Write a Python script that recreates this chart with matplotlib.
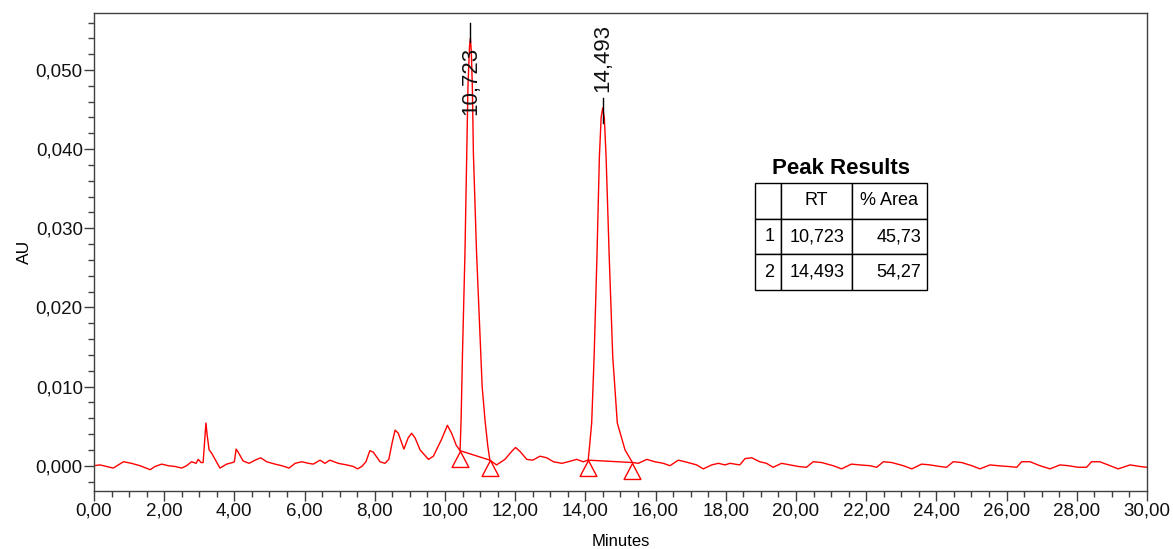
#!/usr/bin/env python3
"""Plot HPLC chromatogram with peak results table."""

import matplotlib

matplotlib.use("Agg")
import matplotlib.pyplot as plt
from matplotlib.path import Path
from matplotlib.ticker import FuncFormatter, MultipleLocator

# Chromatogram trace (minutes, AU)
time_min = [
    0.00, 0.17, 0.46, 0.55, 0.84, 1.07, 1.31, 1.60, 1.74, 1.93, 2.12, 2.31,
    2.50, 2.64, 2.78, 2.91, 2.97, 3.05, 3.11, 3.19, 3.23, 3.28, 3.35, 3.59,
    3.78, 3.95, 4.00, 4.05, 4.11, 4.25, 4.42, 4.59, 4.75, 4.92, 5.16, 5.35,
    5.56, 5.73, 5.92, 6.11, 6.25, 6.44, 6.58, 6.72, 6.96, 7.20, 7.39, 7.51,
    7.63, 7.75, 7.86, 7.96, 8.15, 8.29, 8.40, 8.50, 8.58, 8.67, 8.83, 8.95,
    9.05, 9.15, 9.29, 9.53, 9.67, 9.90, 10.07, 10.19, 10.32, 10.43, 10.46,
    10.48, 10.50, 10.57, 10.62, 10.655, 10.70, 10.723, 10.75, 10.78, 10.81,
    10.90, 11.02, 11.06, 11.14, 11.22, 11.28, 11.47, 11.71, 11.90, 12.01,
    12.14, 12.33, 12.50, 12.71, 12.90, 13.09, 13.33, 13.51, 13.75, 13.94,
    14.08, 14.11, 14.18, 14.25, 14.33, 14.40, 14.45, 14.493, 14.54, 14.59,
    14.68, 14.78, 14.91, 15.13, 15.34, 15.51, 15.75, 15.98, 16.22, 16.41,
    16.65, 16.84, 17.17, 17.36, 17.60, 17.79, 17.98, 18.12, 18.40, 18.55,
    18.74, 18.97, 19.16, 19.35, 19.59, 19.83, 20.07, 20.30, 20.49, 20.73,
    21.06, 21.30, 21.58, 21.82, 22.11, 22.30, 22.49, 22.73, 23.06, 23.30,
    23.58, 23.82, 24.10, 24.29, 24.48, 24.72, 25.01, 25.24, 25.53, 25.76,
    26.05, 26.29, 26.43, 26.67, 26.95, 27.24, 27.52, 27.76, 28.04, 28.28,
    28.42, 28.66, 28.95, 29.18, 29.52, 29.80, 30.00,
]
signal_au = [
    0.0000, 0.0001, -0.0002, -0.0003, 0.0005, 0.0003, 0.0000, -0.0005,
    -0.0001, 0.0002, 0.0000, -0.0001, -0.0003, 0.0000, 0.0005, 0.0003,
    0.0008, 0.0004, 0.0004, 0.0054, 0.0037, 0.0020, 0.0016, -0.0003,
    0.0002, 0.0004, 0.0005, 0.0021, 0.0017, 0.0006, 0.0003, 0.0007,
    0.0010, 0.0005, 0.0002, 0.0000, -0.0003, 0.0003, 0.0005, 0.0003,
    0.0002, 0.0007, 0.0003, 0.0007, 0.0003, 0.0001, -0.0001, -0.0004,
    -0.0001, 0.0005, 0.0019, 0.0017, 0.0005, 0.0003, 0.0008, 0.0030,
    0.0045, 0.0041, 0.0021, 0.0035, 0.0041, 0.0035, 0.0020, 0.0008,
    0.0012, 0.0033, 0.0051, 0.0041, 0.0026, 0.0019, 0.0058, 0.0100,
    0.0143, 0.0269, 0.0395, 0.0479, 0.0530, 0.0540, 0.0525, 0.0479,
    0.0395, 0.0269, 0.0143, 0.0100, 0.0058, 0.0025, 0.0007, 0.0001,
    0.0008, 0.0018, 0.0023, 0.0018, 0.0008, 0.0007, 0.0012, 0.0010,
    0.0005, 0.0003, 0.0005, 0.0008, 0.0005, 0.0007, 0.0020, 0.0054,
    0.0138, 0.0264, 0.0391, 0.0440, 0.0452, 0.0440, 0.0391, 0.0264,
    0.0138, 0.0054, 0.0020, 0.0004, 0.0003, 0.0008, 0.0005, 0.0003,
    0.0000, 0.0007, 0.0005, 0.0001, -0.0004, 0.0001, 0.0003, 0.0001,
    0.0003, 0.0001, 0.0009, 0.0010, 0.0005, 0.0003, -0.0002, 0.0003,
    0.0001, -0.0001, -0.0002, 0.0005, 0.0004, 0.0000, -0.0004, 0.0002,
    0.0001, 0.0000, -0.0002, 0.0005, 0.0004, 0.0000, -0.0004, 0.0002,
    0.0001, -0.0001, -0.0002, 0.0005, 0.0004, 0.0000, -0.0004, 0.0001,
    0.0000, -0.0001, -0.0002, 0.0005, 0.0005, 0.0000, -0.0004, 0.0001,
    0.0000, -0.0002, -0.0002, 0.0005, 0.0005, 0.0000, -0.0004, 0.0001,
    -0.0001, -0.0002,
]

# Integration events (peak start / end markers)
peak_start_min = [10.43, 14.08]
peak_start_au = [0.0019, 0.0007]
peak_end_min = [11.28, 15.34]
peak_end_au = [0.0007, 0.0004]

# Peak labels
peak_rt = [10.723, 14.493]
peak_rt_labels = ["10,723", "14,493"]
tick_top_au = [0.0559, 0.0465]
tick_bottom_au = [0.0536, 0.0433]
label_au = [0.0529, 0.0472]
label_va = ["top", "bottom"]

# Peak results table
table_title = "Peak Results"
table_columns = ["", "RT", "% Area"]
table_rows = [
    ["1", "10,723", "45,73"],
    ["2", "14,493", "54,27"],
]

TRACE = "#ff0000"
FRAME = "#404040"


def comma_fmt(decimals):
    return FuncFormatter(lambda v, pos: f"{v:.{decimals}f}".replace(".", ","))


def main():
    plt.rcParams["font.family"] = ["Liberation Sans", "DejaVu Sans"]

    fig = plt.figure(figsize=(11.73, 5.49), dpi=100)
    ax = fig.add_axes([0.0801, 0.1056, 0.8977, 0.8707])

    # Trace
    ax.plot(time_min, signal_au, color=TRACE, linewidth=1.0)

    # Baselines drawn between start and end events
    for t0, y0, t1, y1 in zip(peak_start_min, peak_start_au, peak_end_min, peak_end_au):
        ax.plot([t0, t1], [y0, y1], color=TRACE, linewidth=1.0)

    # Hollow triangle with its apex on the event point
    tri = Path([(0, 0), (-1, -1.9), (1, -1.9), (0, 0)],
               [Path.MOVETO, Path.LINETO, Path.LINETO, Path.CLOSEPOLY])
    ax.plot(peak_start_min + peak_end_min, peak_start_au + peak_end_au,
            linestyle="none", marker=tri, markersize=23,
            markerfacecolor="none", markeredgecolor=TRACE, markeredgewidth=1.0)

    # Retention time labels
    for rt, lab, ytop, ybot, ylab, va in zip(peak_rt, peak_rt_labels, tick_top_au,
                                             tick_bottom_au, label_au, label_va):
        ax.plot([rt, rt], [ybot, ytop], color="black", linewidth=1.0)
        ax.text(rt, ylab, lab, rotation=90, ha="center", va=va, fontsize=16,
                color="#111111")

    # Axes
    ax.set_xlim(0, 30)
    ax.set_ylim(-0.0032, 0.0572)
    ax.xaxis.set_major_locator(MultipleLocator(2))
    ax.xaxis.set_minor_locator(MultipleLocator(0.5))
    ax.yaxis.set_major_locator(MultipleLocator(0.01))
    ax.yaxis.set_minor_locator(MultipleLocator(0.002))
    ax.xaxis.set_major_formatter(comma_fmt(2))
    ax.yaxis.set_major_formatter(comma_fmt(3))
    ax.tick_params(which="major", direction="out", length=7.5, width=1,
                   color=FRAME, labelsize=13.5, labelcolor="#111111", pad=1)
    ax.tick_params(axis="y", which="major", pad=0.5)
    ax.tick_params(which="minor", direction="out", length=4.5, width=1, color=FRAME)
    for sp in ax.spines.values():
        sp.set_color(FRAME)
        sp.set_linewidth(1.0)

    ax.set_xlabel("Minutes", fontsize=12, labelpad=10)
    ax.set_ylabel("AU", fontsize=12.5, labelpad=3)

    # Peak results table
    ax.text(0.7094, 0.6757, table_title, transform=ax.transAxes, ha="center",
            va="center", fontsize=16, fontweight="bold")
    tbl = ax.table(cellText=table_rows, colLabels=table_columns,
                   colWidths=[0.151, 0.413, 0.436],
                   bbox=[0.6277, 0.4205, 0.1633, 0.2238])
    tbl.auto_set_font_size(False)
    for (r, c), cell in tbl.get_celld().items():
        cell.set_edgecolor("black")
        cell.set_linewidth(1.0)
        cell.set_fontsize(13)
        if c == 2 and r > 0:
            cell._loc = "right"
            cell.PAD = 0.08
        elif c == 0:
            cell._loc = "left"
            cell.PAD = 0.25
        else:
            cell._loc = "center"

    fig.savefig("out.png", dpi=100)


if __name__ == "__main__":
    main()
